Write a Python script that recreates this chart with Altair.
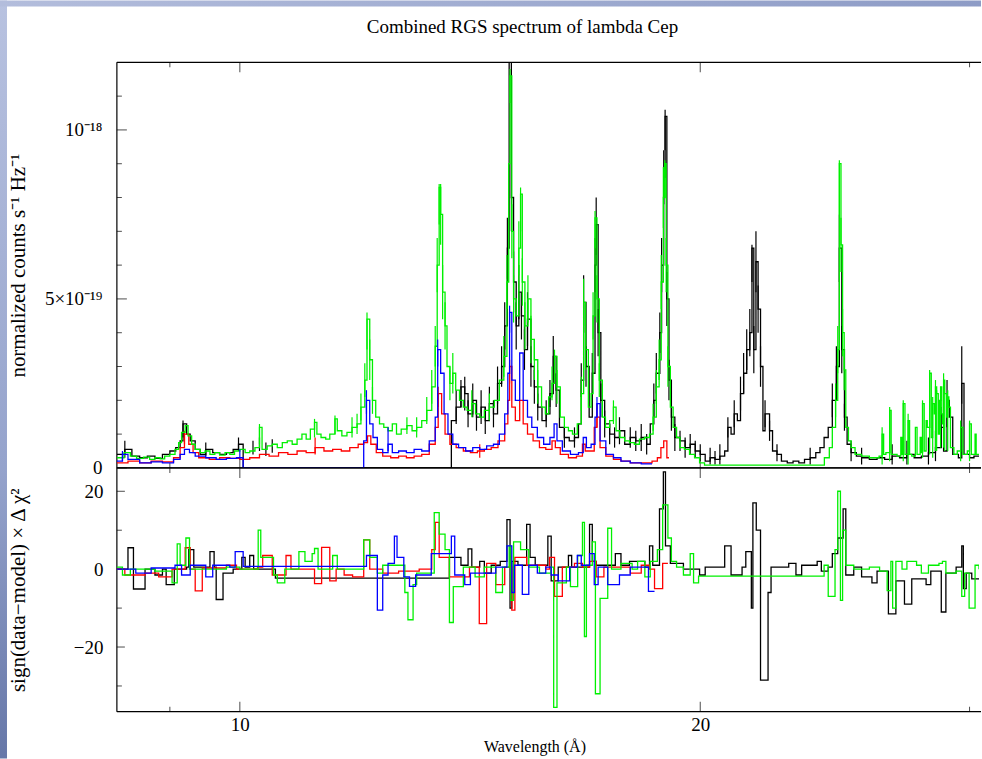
import altair as alt
import pandas as pd

# ---------------- text ----------------
TITLE = "Combined RGS spectrum of lambda Cep"
X_TITLE = "Wavelength (Å)"
Y_TOP_TITLE = "normalized counts s⁻¹ Hz⁻¹"
Y_BOT_TITLE = "sign(data−model) × Δ χ²"

# ---------------- axes ----------------
X_DOMAIN = [8.31, 30.43]          # Angstrom, log scale
TOP_DOMAIN = [0, 12]              # units of 1e-19 counts/s/Hz
BOT_DOMAIN = [-36.6, 26.0]
X_LABELS = [10, 20]
X_MAJOR = [10, 20]
X_MINOR = [9, 30]
TOP_LABELS = [0, 5, 10]
TOP_MINOR = [1, 2, 3, 4, 6, 7, 8, 9, 11]
BOT_LABELS = [20, 0, -20]
BOT_MINOR = [10, -10, -30]

# ---------------- spectra (wavelength, value in 1e-19) ----------------
BLACK_TOP = [(8.31,0.40),(8.41,0.55),(8.50,0.35),(8.60,0.30),(8.70,0.35),(8.80,0.28),(8.90,0.40),(9.00,0.50),
    (9.08,0.60),(9.14,0.80),(9.18,1.30),(9.23,1.00),(9.28,0.80),(9.35,0.55),(9.42,0.40),(9.50,0.55),(9.60,0.45),
    (9.70,0.40),(9.80,0.45),(9.90,0.55),(9.98,0.70),(10.05,0.00),(13.75,1.40),(13.85,1.80),(13.95,2.40),(14.03,2.20),
    (14.10,1.60),(14.20,2.00),
    (14.28,1.50),(14.38,1.80),(14.47,1.40),(14.56,1.90),(14.65,1.60),(14.74,2.50),(14.83,3.00),(14.90,4.20),
    (14.96,6.50),(15.00,12.50),(15.05,8.00),(15.10,5.50),(15.16,4.20),(15.22,5.20),(15.28,4.50),(15.35,3.50),
    (15.42,4.40),(15.50,3.00),(15.58,2.40),(15.66,1.80),(15.76,1.40),(15.86,1.60),(15.95,2.20),(16.03,3.30),
    (16.10,2.30),(16.18,1.20),(16.30,0.90),(16.42,0.80),(16.55,0.90),(16.65,1.30),(16.72,2.60),(16.78,4.90),
    (16.84,3.00),(16.92,1.50),(17.00,2.80),(17.07,6.00),(17.10,7.20),(17.15,4.00),(17.22,2.00),(17.32,1.30),
    (17.45,1.00),(17.58,0.90),(17.71,1.10),(17.85,0.70),(18.00,0.90),(18.15,0.80),(18.30,0.90),(18.45,0.70),
    (18.55,1.30),(18.65,2.00),(18.72,2.80),(18.82,4.00),(18.87,6.00),(18.93,8.60),(18.97,10.40),(19.02,5.00),
    (19.08,2.60),(19.15,1.50),(19.25,0.90),(19.40,0.80),(19.55,0.60),(19.70,0.70),(19.85,0.50),(20.00,0.40),
    (20.15,0.20),(20.30,0.30),(20.45,0.25),(20.60,0.35),(20.75,0.50),(20.85,1.20),(20.95,1.00),(21.05,1.60),
    (21.15,1.40),(21.25,2.20),(21.35,2.80),(21.45,3.50),(21.55,4.00),(21.62,6.50),(21.68,3.50),(21.75,6.10),
    (21.82,4.70),(21.90,3.00),(21.98,1.10),(22.05,1.60),(22.20,1.10),(22.30,0.50),(22.45,0.40),(22.60,0.20),
    (22.80,0.15),(23.00,0.20),(23.20,0.15),(23.40,0.25),(23.60,0.30),(23.80,0.45),(23.95,0.60),(24.10,0.90),
    (24.25,1.20),(24.40,2.00),(24.55,3.00),(24.66,6.50),(24.75,3.50),(24.85,1.50),(24.95,0.70),(25.10,0.45),
    (25.30,0.35),(25.50,0.30),(25.80,0.25),(26.10,0.30),(26.40,0.25),(26.70,0.35),(27.00,0.30),(27.30,0.40),
    (27.60,0.30),(27.90,0.35),(28.20,0.45),(28.50,0.60),(28.75,1.20),(28.85,0.50),(29.00,2.00),(29.10,1.50),
    (29.25,0.40),(29.50,0.30),(29.65,2.50),(29.75,0.40),(30.00,0.30),(30.20,0.35),(30.43,0.35)]

RED_TOP = [(8.31,0.15),(8.45,0.20),(8.60,0.15),(8.75,0.20),(8.90,0.18),(9.05,0.30),(9.14,0.60),(9.20,1.00),
    (9.26,0.70),(9.32,0.45),(9.40,0.30),(9.55,0.25),(9.70,0.30),(9.85,0.28),(10.00,0.25),(10.15,0.30),(10.30,0.40),
    (10.45,0.35),(10.60,0.45),(10.75,0.40),(10.90,0.50),(11.05,0.45),(11.20,0.60),(11.35,0.50),(11.50,0.55),
    (11.65,0.50),(11.80,0.60),(11.95,0.70),(12.05,0.75),(12.12,0.95),(12.18,0.70),(12.28,0.45),(12.40,0.35),
    (12.55,0.30),(12.70,0.35),(12.85,0.30),(13.00,0.35),(13.15,0.40),(13.30,0.70),(13.42,1.20),(13.48,2.20),
    (13.55,1.60),(13.62,1.00),(13.72,0.70),(13.85,0.60),(14.00,0.50),(14.15,0.45),(14.30,0.50),(14.45,0.55),
    (14.60,0.60),(14.75,0.80),(14.90,1.30),(14.97,2.00),(15.01,3.00),(15.06,1.80),(15.14,1.40),(15.24,2.00),
    (15.32,1.30),(15.42,1.00),(15.55,0.80),(15.70,0.60),(15.85,0.55),(16.00,0.80),(16.08,0.60),(16.20,0.40),
    (16.40,0.30),(16.60,0.35),(16.75,0.70),(16.82,0.50),(16.95,0.50),(17.05,1.20),(17.12,1.50),(17.20,0.60),
    (17.35,0.35),(17.55,0.25),(17.75,0.20),(18.00,0.15),(18.30,0.15),(18.60,0.20),(18.75,0.30),(18.85,0.60),
    (18.93,0.80),(19.02,0.30),(19.08,0.30)]

GREEN_TOP = [(8.31,0.30),(8.40,0.45),(8.48,0.35),(8.56,0.28),(8.65,0.32),(8.73,0.25),(8.80,0.30),(8.87,0.27),
    (8.93,0.35),(9.00,0.40),(9.07,0.55),(9.12,0.75),(9.16,1.05),(9.21,1.25),(9.25,0.95),(9.30,0.70),(9.35,0.55),
    (9.42,0.45),(9.49,0.50),(9.56,0.40),(9.63,0.45),(9.70,0.38),(9.78,0.45),(9.85,0.40),(9.92,0.50),(10.00,0.55),
    (10.08,0.45),(10.15,0.50),(10.23,0.60),(10.30,1.20),(10.34,0.55),(10.42,0.65),(10.50,0.70),(10.58,0.60),
    (10.66,0.75),(10.74,0.80),(10.82,0.70),(10.90,0.85),(10.98,1.00),(11.05,0.85),(11.12,1.15),(11.19,1.35),
    (11.23,1.00),(11.30,0.90),(11.38,0.85),(11.45,1.00),(11.54,1.45),(11.58,1.10),(11.66,0.95),(11.75,1.05),
    (11.84,1.20),(11.93,1.30),(12.00,1.80),(12.07,2.60),(12.11,4.40),(12.16,3.20),(12.21,2.00),(12.27,1.50),
    (12.34,1.30),(12.42,1.20),(12.50,1.10),(12.58,1.30),(12.66,1.00),(12.75,1.15),(12.86,1.25),(12.96,1.10),
    (13.05,1.20),(13.15,1.40),(13.25,1.70),(13.35,2.40),(13.42,3.60),(13.46,6.00),(13.50,8.30),(13.53,7.50),
    (13.57,5.20),(13.62,4.20),(13.66,3.00),(13.72,2.50),(13.78,2.80),(13.84,2.30),(13.92,2.00),(14.00,1.80),
    (14.08,1.70),(14.18,1.90),(14.26,1.60),(14.35,1.50),(14.45,1.70),(14.56,1.80),(14.67,2.00),(14.78,2.60),
    (14.88,3.30),(14.95,5.50),(14.99,9.00),(15.02,11.60),(15.06,7.00),(15.10,5.00),(15.16,4.50),(15.22,6.50),
    (15.26,8.10),(15.30,5.50),(15.36,4.20),(15.43,5.00),(15.50,3.80),(15.58,3.20),(15.66,2.40),(15.75,1.80),
    (15.84,1.60),(15.92,2.10),(16.00,2.50),(16.06,3.30),(16.12,2.40),(16.20,1.50),(16.30,1.20),(16.40,1.10),
    (16.50,1.00),(16.62,1.30),(16.72,2.20),(16.78,4.90),(16.83,3.50),(16.90,1.80),(16.97,2.20),(17.02,4.50),
    (17.07,7.40),(17.12,5.00),(17.18,2.60),(17.26,1.50),(17.34,1.20),(17.45,1.40),(17.55,1.80),(17.62,1.10),
    (17.72,0.90),(17.85,0.80),(17.98,0.75),(18.11,0.70),(18.25,0.85),(18.39,0.90),(18.53,1.00),(18.63,1.50),
    (18.72,2.40),(18.80,3.20),(18.86,5.50),(18.92,8.00),(18.96,9.00),(19.00,6.00),(19.05,3.00),(19.12,1.80),
    (19.20,1.20),(19.30,0.90),(19.40,0.60),(19.53,0.55),(19.68,0.40),(19.83,0.30),(19.98,0.15),(20.13,0.08),
    (24.11,0.30),(24.29,0.60),(24.40,1.20),(24.52,2.00),(24.60,3.50),(24.66,9.00),(24.72,6.60),(24.78,4.00),
    (24.84,2.90),(24.90,1.20),(25.00,0.80),(25.10,0.60),(25.25,0.40),(25.50,0.35),(25.80,0.30),(26.00,0.30),
    (26.18,0.35),(26.30,1.00),(26.36,0.40),(26.45,0.45),(26.60,1.70),(26.66,0.40),(26.90,0.35),(27.05,0.90),
    (27.10,0.40),(27.15,1.90),(27.22,0.40),(27.35,1.40),(27.41,0.40),(27.50,0.35),(27.65,1.20),(27.72,0.40),
    (27.85,0.90),(27.90,0.45),(27.95,1.90),(28.02,0.50),(28.10,1.40),(28.15,1.20),(28.25,2.80),(28.32,0.90),
    (28.38,1.90),(28.45,1.60),(28.50,2.40),(28.55,2.20),(28.62,1.00),(28.67,2.00),(28.72,2.40),(28.77,1.60),
    (28.80,1.30),(28.85,2.60),(28.90,2.20),(28.98,1.50),(29.03,2.10),(29.08,1.80),(29.15,0.60),(29.30,0.40),
    (29.45,0.50),(29.60,1.20),(29.70,0.40),(29.90,0.50),(30.00,1.30),(30.08,0.40),(30.25,1.00),(30.30,0.40),
    (30.43,0.40)]

BLUE_TOP = [(8.31,0.20),(8.38,0.40),(8.45,0.25),(8.60,0.15),(8.75,0.18),(8.90,0.15),(9.05,0.25),(9.14,0.40),
    (9.20,0.55),(9.27,0.45),(9.35,0.35),(9.50,0.30),(9.65,0.25),(9.80,0.28),(9.95,0.30),(10.05,0.00),(12.05,0.80),
    (12.10,2.00),(12.16,1.30),(12.22,0.90),(12.30,0.55),(12.40,0.45),(12.50,0.70),(12.58,0.45),(12.70,0.50),
    (12.85,0.45),(13.00,0.55),(13.15,0.50),(13.30,0.80),(13.42,1.50),(13.47,3.50),(13.53,2.80),(13.60,1.60),
    (13.68,1.00),(13.78,0.70),(13.90,0.60),(14.05,0.50),(14.20,0.60),(14.35,0.55),(14.50,0.65),(14.65,0.70),
    (14.78,1.00),(14.90,1.60),(14.97,2.80),(15.01,4.60),(15.06,2.60),(15.14,2.00),(15.24,3.40),(15.32,2.00),
    (15.42,1.50),(15.52,1.20),(15.65,0.90),(15.80,0.70),(15.95,0.90),(16.05,1.30),(16.12,0.80),(16.25,0.50),
    (16.45,0.40),(16.65,0.45),(16.77,0.90),(16.85,0.60),(16.97,0.70),(17.07,1.50),(17.12,1.90),(17.20,0.80),
    (17.35,0.40),(17.55,0.30),(17.75,0.20),(18.00,0.15),(18.30,0.12),(18.60,0.12)]

# error bars: (wavelength, low, high)
BLACK_ERR = [(8.41,0.3,0.8),(9.18,0.9,1.4),(9.50,0.35,0.75),(9.98,0.5,0.9),(10.20,0.4,0.8),(10.30,0.5,0.9),
    (10.40,0.35,0.75),(10.50,0.45,0.85),
    (13.85,1.3,2.3),(13.95,1.8,2.6),(14.03,1.7,2.7),(14.10,1.2,2.0),(14.20,1.5,2.5),(14.28,1.1,1.9),(14.38,1.3,2.3),
    (14.47,1.0,1.8),(14.56,1.4,2.4),(14.65,1.2,2.0),(14.74,1.9,3.0),(14.83,2.4,3.6),(14.90,3.5,4.9),(14.96,5.6,7.4),
    (15.05,7.0,9.0),(15.10,4.6,6.4),(15.16,3.5,4.9),(15.22,4.4,6.0),(15.28,3.8,5.2),(15.35,2.9,4.1),(15.42,3.6,5.2),
    (15.50,2.4,3.6),(15.58,1.9,2.9),(15.66,1.4,2.2),(15.86,1.2,2.0),(15.95,1.8,2.6),(16.03,2.6,3.9),(16.10,1.8,2.8),
    (16.30,0.6,1.2),(16.55,0.6,1.2),(16.72,2.1,3.1),(16.78,4.0,5.7),(16.84,2.4,3.6),(17.00,2.2,3.4),(17.07,5.2,6.8),
    (17.10,6.3,8.0),(17.15,3.3,4.7),(17.22,1.5,2.5),(17.32,0.9,1.7),(17.45,0.7,1.3),(17.58,0.6,1.2),(17.71,0.7,1.5),
    (18.00,0.6,1.2),(18.15,0.5,1.1),(18.30,0.5,1.3),(18.45,0.4,1.0),(18.65,1.5,2.5),(18.72,2.2,3.4),(18.82,3.4,4.6),
    (18.87,5.2,6.8),(18.93,7.8,9.4),(18.97,9.4,10.6),(19.02,4.2,5.8),(19.08,2.0,3.2),(19.15,1.1,1.9),(19.25,0.5,1.3),
    (19.40,0.5,1.1),(19.55,0.3,0.9),(19.70,0.4,1.0),(19.85,0.3,0.8),(20.00,0.2,0.7),(20.30,0.1,0.6),(20.45,0.1,0.5),
    (20.60,0.1,0.7),(20.85,0.9,1.5),(21.05,1.2,2.0),(21.25,1.7,2.7),(21.35,2.2,3.4),(21.45,2.9,4.1),(21.55,3.3,4.7),
    (21.62,5.5,6.6),(21.68,2.8,4.2),(21.75,5.2,7.0),(21.82,4.0,5.4),(21.90,2.4,3.6),(22.05,1.2,2.0),(22.20,0.8,1.4),
    (22.45,0.2,0.7),(23.60,0.1,0.6),(24.40,1.5,2.5),(24.55,2.4,3.6),(24.66,5.5,7.5),(24.75,2.8,4.2),(24.85,1.1,1.9),
    (25.10,0.2,0.8),(25.50,0.1,0.6),(26.70,0.1,0.7),(27.30,0.1,0.8),(28.20,0.1,0.9),(28.50,0.2,1.1),(28.75,0.6,1.8),
    (29.00,1.2,2.6),(29.65,1.9,3.6)]
RED_ERR = [(9.20,0.7,1.1),(11.20,0.4,0.9),(13.48,1.8,2.4),(14.35,0.3,0.7),(15.01,2.5,3.2),(17.12,1.2,1.9)]
GREEN_ERR = [(10.30,0.7,1.3),(11.19,0.9,1.45),(11.54,1.0,1.55),(11.84,0.9,1.5),(11.93,1.0,1.6),(12.00,1.4,2.2),
    (12.07,2.1,3.1),(12.11,3.5,4.6),(12.16,2.6,3.8),(12.21,1.6,2.4),(12.86,1.0,1.5),(13.05,0.9,1.5),(13.25,1.3,2.1),
    (13.35,1.9,2.9),(13.42,3.0,4.2),(13.46,5.2,6.8),(13.50,7.2,8.4),(13.53,6.6,8.4),(13.57,4.4,6.0),(13.62,3.5,4.9),
    (13.72,2.0,3.0),(13.78,2.2,3.4),(14.18,1.5,2.3),(14.56,1.4,2.2),(14.88,2.7,3.9),(14.95,4.7,6.3),(15.02,10.8,11.8),
    (15.06,6.2,7.8),(15.10,4.3,5.7),(15.22,5.7,7.3),(15.26,7.0,8.3),(15.30,4.8,6.2),(15.36,3.5,4.9),(15.43,4.3,5.7),
    (15.50,3.1,4.5),(15.58,2.6,3.8),(15.66,1.9,2.9),(16.00,2.0,3.0),(16.06,2.6,3.5),(16.12,1.9,2.9),(16.72,1.7,2.7),
    (16.78,4.2,5.6),(16.83,2.9,4.1),(17.02,3.8,5.2),(17.07,6.5,7.6),(17.12,4.3,5.7),(17.18,2.1,3.1),(17.55,1.3,2.0),
    (18.63,1.1,1.9),(18.72,1.9,2.9),(18.80,2.6,3.8),(18.86,4.7,6.3),(18.92,7.1,8.9),(18.96,8.0,9.1),(19.00,5.2,6.8),
    (19.05,2.4,3.6),(24.52,1.5,2.5),(24.60,2.8,4.2),(24.66,7.5,9.1),(24.72,5.8,7.4),(24.78,3.3,4.7),(24.84,2.3,3.5),
    (26.30,0.1,1.2),(26.60,0.2,1.8),(27.15,0.2,2.0),(27.35,0.1,1.6),(27.95,0.3,2.0),(28.25,0.4,2.9),(28.38,0.3,2.1),
    (28.50,0.5,2.6),(28.55,0.5,2.3),(28.72,0.6,2.4),(28.85,0.6,2.8),(28.90,0.5,2.2),(29.03,0.5,2.3),(29.60,0.2,1.4),
    (30.00,0.2,1.4)]
BLUE_ERR = [(8.38,0.2,0.5),(10.00,0.3,0.55),(12.10,1.6,2.3),(12.50,0.5,1.2),(13.47,3.0,3.8),(15.01,4.0,4.8),
    (17.12,1.5,2.1)]

# ---------------- residuals (wavelength, sign(data-model) x dchi2) ----------------
BLACK_RES = [(8.31,0.0),(8.45,5.5),(8.52,-5.1),(8.67,0.0),(8.80,-1.5),(8.90,0.0),(8.95,-4.0),(9.06,0.0),(9.23,0.5),
    (9.26,5.0),(9.33,0.5),(9.56,4.5),(9.62,0.5),(9.65,-7.8),(9.75,-1.0),(9.90,0.0),(10.03,3.0),(10.08,0.5),(10.15,3.5),
    (10.21,0.0),(10.55,-2.3),(13.71,3.0),(13.95,1.0),(14.10,5.2),(14.18,0.5),(14.35,2.0),(14.45,-1.0),(14.60,1.0),
    (14.80,2.0),(14.95,12.7),(15.02,-10.0),(15.06,2.0),(15.20,1.0),(15.40,11.5),(15.48,3.0),(15.60,1.0),(15.90,8.5),
    (15.98,-3.0),(16.15,0.5),(16.40,3.5),(16.48,0.5),(16.93,11.5),(17.00,2.0),(17.10,1.0),(17.60,4.0),(17.75,1.0),
    (17.98,2.0),(18.40,0.5),(18.53,6.0),(18.62,1.0),(18.81,15.5),(18.92,25.0),(18.98,6.0),(19.12,1.5),(19.50,0.0),
    (19.98,-1.5),(20.15,0.5),(20.75,6.0),(20.95,-1.5),(21.30,0.5),(21.42,4.5),(21.60,-10.0),(21.65,17.0),(21.76,10.0),
    (21.90,-28.5),(22.15,-6.0),(22.25,0.5),(22.85,1.5),(23.10,-1.5),(23.30,1.0),(23.85,2.0),(24.00,-0.5),(24.25,0.5),
    (24.40,4.0),(24.60,8.0),(24.80,15.5),(24.90,-1.5),(25.20,0.5),(25.50,-2.0),(25.90,-3.5),(26.10,-0.5),(26.55,-11.5),
    (26.85,-3.0),(27.20,-9.0),(27.50,-2.5),(28.10,-4.0),(28.30,-0.5),(28.75,-11.0),(28.95,-1.0),(29.40,0.5),(29.65,6.0),
    (29.72,-5.0),(29.85,-1.0),(30.10,-2.5),(30.43,-2.5)]

RED_RES = [(8.31,0.0),(8.41,-1.5),(8.67,-1.0),(8.85,-2.0),(9.03,0.0),(9.21,5.5),(9.28,0.0),(9.35,-5.6),(9.45,0.3),
    (9.80,1.0),(9.95,0.0),(10.27,0.5),(10.35,3.5),(10.50,-1.5),(10.72,3.5),(10.80,0.0),(11.19,-3.7),(11.31,5.6),
    (11.45,-3.0),(11.56,0.0),(11.70,-1.5),(11.85,-2.0),(12.05,7.5),(12.16,0.0),(12.40,-1.0),(12.70,-0.5),(13.10,0.0),
    (13.35,5.0),(13.42,12.0),(13.50,3.0),(13.71,-2.0),(14.13,0.5),(14.34,-14.0),(14.50,1.5),(14.70,-4.0),(14.90,0.5),
    (15.06,-10.5),(15.13,3.0),(15.40,1.0),(15.85,0.0),(15.94,3.0),(16.06,-7.0),(16.25,0.5),(16.55,1.5),(16.75,0.5),
    (16.93,2.0),(17.10,-2.0),(17.30,0.5),(17.70,0.5),(18.00,-1.0),(18.30,1.0),(18.53,0.0),(18.67,-5.0),(18.90,1.5),
    (19.05,1.5)]

GREEN_RES = [(8.31,0.5),(8.38,-1.5),(8.48,0.0),(8.80,-0.5),(9.03,-3.5),(9.10,6.5),(9.14,1.0),(9.22,8.0),(9.27,0.0),
    (9.80,0.5),(10.00,0.0),(10.28,10.0),(10.32,3.0),(10.52,-1.5),(10.58,-3.5),(10.70,0.0),(10.93,4.5),(11.03,2.0),
    (11.15,4.0),(11.19,5.3),(11.25,0.0),(11.50,3.5),(11.58,0.0),(12.05,7.5),(12.16,3.0),(12.30,-1.0),(12.40,1.0),
    (12.82,-6.0),(12.88,-13.0),(12.98,-4.0),(13.05,-1.0),(13.40,14.5),(13.50,9.0),(13.62,5.0),(13.71,-13.7),(13.79,-4.5),
    (14.00,0.5),(14.25,-2.0),(14.45,0.5),(14.70,-6.0),(14.85,0.5),(15.00,6.0),(15.04,-8.0),(15.10,7.0),(15.26,5.0),
    (15.45,0.5),(15.70,-1.0),(15.98,0.5),(16.04,-35.5),(16.12,-3.5),(16.35,0.5),(16.45,-4.5),(16.63,3.5),(16.75,12.0),
    (16.80,-17.3),(16.85,1.0),(17.00,7.0),(17.08,-32.0),(17.20,-7.5),(17.40,10.5),(17.50,0.0),(17.75,1.5),(18.05,0.0),
    (18.20,2.0),(18.40,-2.0),(18.55,2.0),(18.75,5.0),(18.90,16.5),(19.05,8.0),(19.15,2.0),(19.30,0.5),(19.50,-1.5),
    (19.70,4.0),(19.80,-3.5),(19.95,-1.8),(24.10,1.0),(24.25,-7.0),(24.50,5.0),(24.60,20.0),(24.70,-8.0),(24.78,10.0),
    (24.90,1.0),(25.20,0.0),(25.80,0.5),(26.20,-0.5),(26.50,-5.5),(26.65,2.0),(26.72,-10.0),(26.85,2.0),(27.10,0.0),
    (27.30,2.0),(27.70,1.0),(27.90,-1.0),(28.20,1.0),(28.65,1.5),(28.80,2.0),(28.95,-1.0),(29.40,-0.5),(29.65,-7.0),
    (29.78,-1.0),(29.98,-10.0),(30.25,1.0),(30.43,0.0)]

BLUE_RES = [(8.31,0.0),(8.55,-1.0),(8.75,0.3),(9.07,1.0),(9.16,-1.5),(9.28,1.0),(9.50,-2.0),(9.60,1.0),(9.85,0.5),
    (9.93,4.5),(10.05,0.7),(12.10,3.5),(12.30,-10.5),(12.40,-1.5),(12.50,1.5),(12.62,8.5),(12.67,3.0),(12.80,-2.0),
    (12.91,-4.4),(13.03,-1.5),(13.34,4.0),(13.75,8.5),(13.82,-1.5),(14.03,-4.0),(14.15,-1.0),(14.70,0.5),(14.95,6.0),
    (15.06,-6.0),(15.12,1.0),(15.30,-6.5),(15.45,1.0),(15.65,-1.0),(15.85,0.5),(15.98,-1.5),(16.15,-3.0),(16.43,0.5),
    (16.62,3.5),(16.72,1.0),(16.93,4.0),(17.05,-4.0),(17.15,0.5),(17.40,-4.0),(17.71,-1.5),(18.00,0.5),(18.50,-5.7),
    (18.67,-5.7)]

COLORS = {"black": "#000000", "red": "#ff0000", "green": "#00f000", "blue": "#0000ff"}

# ---------------- layout ----------------
W, HT, HB = 863, 406, 244
FONT = "Liberation Serif"
LEFT, TOP = 117, 62
LW = 1.3

xs = alt.Scale(type="log", domain=X_DOMAIN, nice=False)
yt = alt.Scale(domain=TOP_DOMAIN, nice=False, zero=False)
yb = alt.Scale(domain=BOT_DOMAIN, nice=False, zero=False)
one = pd.DataFrame({"d": [0]})

label_kw = dict(labelFont=FONT, labelFontSize=19, labelColor="black", titleFont=FONT,
                titleFontWeight="normal", titleColor="black", ticks=False, tickSize=0,
                domain=False, grid=False)

TOP_Y_AXIS = alt.Axis(
    values=TOP_LABELS, title=Y_TOP_TITLE, titleFontSize=21, labelPadding=15,
    labelExpr="datum.value == 10 ? '10⁻¹⁸' : (datum.value == 5 ? '5×10⁻¹⁹' : '0')",
    titleX=-98, titleBaseline="middle", **label_kw)
BOT_Y_AXIS = alt.Axis(
    values=BOT_LABELS, title=Y_BOT_TITLE, titleFontSize=21, labelPadding=14,
    labelExpr="datum.value < 0 ? '−' + (-datum.value) : '' + datum.value",
    titleX=-98, titleBaseline="middle", **label_kw)
BOT_X_AXIS = alt.Axis(
    values=X_LABELS, format="d", title=X_TITLE, titleFontSize=16, labelPadding=4,
    titlePadding=4, titleX=418, labelFlush=False, **label_kw)

PANEL = {
    "top": dict(xaxis=None, yaxis=TOP_Y_AXIS, ys=yt),
    "bot": dict(xaxis=BOT_X_AXIS, yaxis=BOT_Y_AXIS, ys=yb),
}


def steps(pairs, color, p):
    df = pd.DataFrame(pairs, columns=["lam", "val"])
    return alt.Chart(df).mark_line(interpolate="step-after", color=color, strokeWidth=LW, clip=True).encode(
        x=alt.X("lam:Q", scale=xs, axis=p["xaxis"]), y=alt.Y("val:Q", scale=p["ys"], axis=p["yaxis"]))


def errs(rows, color, p):
    df = pd.DataFrame(rows, columns=["lam", "lo", "hi"])
    return alt.Chart(df).mark_rule(color=color, strokeWidth=1.2, clip=True).encode(
        x=alt.X("lam:Q", scale=xs, axis=p["xaxis"]), y=alt.Y("lo:Q", scale=p["ys"], axis=p["yaxis"]), y2="hi:Q")


def frame(h):
    rules = []
    for yy in (0, h):
        rules.append(alt.Chart(one).mark_rule(color="black", strokeWidth=1.2).encode(
            x=alt.value(0), x2=alt.value(W + 2), y=alt.value(yy)))
    rules.append(alt.Chart(one).mark_rule(color="black", strokeWidth=1.2).encode(
        x=alt.value(0), y=alt.value(0), y2=alt.value(h)))
    return rules


def xticks(h, p):
    out = []
    for vals, size in ((X_MAJOR, 10), (X_MINOR, 5)):
        df = pd.DataFrame({"v": vals})
        for yy in (size / 2, h - size / 2):
            out.append(alt.Chart(df).mark_tick(orient="vertical", size=size, thickness=1, color="black").encode(
                x=alt.X("v:Q", scale=xs, axis=p["xaxis"]), y=alt.value(yy)))
    return out


def yticks(major, minor, p, msize):
    out = []
    for vals, size in ((major, msize), (minor, 5)):
        df = pd.DataFrame({"v": vals})
        out.append(alt.Chart(df).mark_tick(orient="horizontal", size=size, thickness=1, color="black").encode(
            y=alt.Y("v:Q", scale=p["ys"], axis=p["yaxis"]), x=alt.value(size / 2)))
    return out


def strip(y0, y1, c0, c1):
    grad = alt.Gradient(gradient="linear", stops=[alt.GradientStop(color=c0, offset=0),
                                                   alt.GradientStop(color=c1, offset=1)],
                        x1=0, x2=0, y1=0, y2=1)
    return alt.Chart(one).mark_rect(color=grad).encode(
        x=alt.value(-LEFT), x2=alt.value(-LEFT + 7), y=alt.value(y0), y2=alt.value(y1))


title_mark = alt.Chart(one).mark_text(text=TITLE, font=FONT, fontSize=19, color="black",
                                      align="center", baseline="middle").encode(
    x=alt.value(406), y=alt.value(-35))

top_strip_grad = alt.Gradient(gradient="linear", stops=[alt.GradientStop(color="#b3bddc", offset=0),
                                                        alt.GradientStop(color="#8e9cc6", offset=1)],
                              x1=0, x2=1, y1=0, y2=0)
top_strip = alt.Chart(one).mark_rect(color=top_strip_grad).encode(
    x=alt.value(-LEFT), x2=alt.value(W + 2), y=alt.value(-TOP), y2=alt.value(-TOP + 6))

T, B = PANEL["top"], PANEL["bot"]

top_layers = ([strip(-TOP, HT, "#b8c2e0", "#95a3cc"), top_strip, title_mark] + frame(HT) + xticks(HT, T)
              + yticks(TOP_LABELS, TOP_MINOR, T, 10)
              + [steps(BLACK_TOP, COLORS["black"], T), errs(BLACK_ERR, COLORS["black"], T),
                 steps(RED_TOP, COLORS["red"], T), errs(RED_ERR, COLORS["red"], T),
                 steps(GREEN_TOP, COLORS["green"], T), errs(GREEN_ERR, COLORS["green"], T),
                 steps(BLUE_TOP, COLORS["blue"], T), errs(BLUE_ERR, COLORS["blue"], T)])
top = alt.layer(*top_layers).properties(width=W, height=HT)

bot_layers = ([strip(0, 759 - TOP - HT, "#95a3cc", "#6677a8")] + frame(HB) + xticks(HB, B)
              + yticks(BOT_LABELS, BOT_MINOR, B, 8)
              + [steps(BLACK_RES, COLORS["black"], B), steps(RED_RES, COLORS["red"], B),
                 steps(GREEN_RES, COLORS["green"], B), steps(BLUE_RES, COLORS["blue"], B)])
bottom = alt.layer(*bot_layers).properties(width=W, height=HB)

chart = alt.vconcat(top, bottom, spacing=0, bounds="flush").properties(
    padding=0, background="white"
).configure_view(stroke=None)

chart.save("out.html", embed_options={"renderer": "svg", "actions": False})
